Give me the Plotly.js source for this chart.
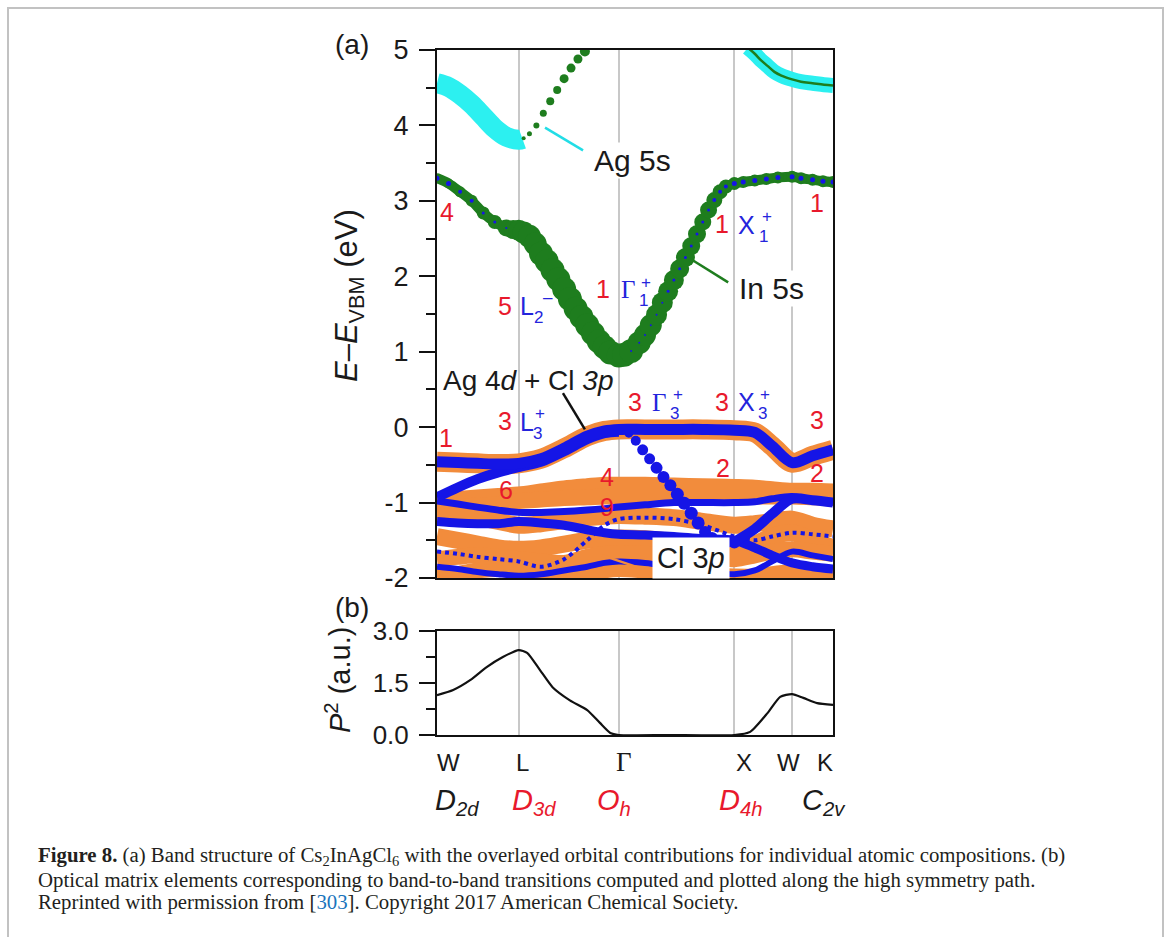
<!DOCTYPE html>
<html><head><meta charset="utf-8">
<script src="https://cdn.plot.ly/plotly-3.0.1.min.js"></script>
<style>html,body{margin:0;padding:0;background:#fff}#chart{width:1168px;height:937px}</style>
</head><body><div id="chart"></div>
<script>
// ---------------- data ----------------
const symLabels = ['W', 'L', 'Γ', 'X', 'W', 'K'];
const symK = [0, 0.707, 1.573, 2.573, 3.073, 3.427];
const pointGroups = ['D<sub>2d</sub>', 'D<sub>3d</sub>', 'O<sub>h</sub>', 'D<sub>4h</sub>', 'C<sub>2v</sub>'];
const pointGroupRed = [false, true, true, true, false];
const eTicks = [-2, -1, 0, 1, 2, 3, 4, 5];
const eTickText = ['-2', '-1', '0', '1', '2', '3', '4', '5'];
const pTicks = [0, 1.5, 3];
const pTickText = ['0.0', '1.5', '3.0'];

// lowest conduction band (In 5s dominated)
const kC = [0, 0.1, 0.2, 0.3, 0.4, 0.5, 0.6, 0.66, 0.707, 0.75,
  0.8, 0.85, 0.9, 0.95, 1.0, 1.05, 1.1, 1.15, 1.2, 1.25, 1.3, 1.35, 1.4, 1.45, 1.5,
  1.573, 1.62, 1.68,
  1.75, 1.8, 1.85, 1.9, 1.95, 2.0, 2.05, 2.1, 2.15, 2.2, 2.25, 2.3, 2.35, 2.4, 2.45, 2.5,
  2.573, 2.65, 2.75, 2.85, 2.95, 3.073, 3.15, 3.25, 3.34, 3.427];
const cbInE = [3.30, 3.23, 3.12, 3.00, 2.84, 2.72, 2.64, 2.62, 2.61, 2.58,
  2.53, 2.43, 2.30, 2.20, 2.08, 1.96, 1.83, 1.70, 1.57, 1.46, 1.35, 1.24, 1.14, 1.06, 0.99,
  0.95, 0.96, 1.01,
  1.12, 1.22, 1.35, 1.49, 1.65, 1.80, 1.95, 2.10, 2.25, 2.40, 2.56, 2.72, 2.88, 3.01, 3.12, 3.19,
  3.23, 3.25, 3.27, 3.29, 3.31, 3.32, 3.30, 3.28, 3.26, 3.25];
const cbInWeight = [10, 10, 11, 12, 13, 14, 17, 19, 21, 22,
  23, 23, 24, 24, 24, 24, 24, 24, 24, 24, 24, 24, 24, 24, 24,
  24, 24, 24,
  23, 22, 22, 21, 21, 20, 20, 19, 19, 18, 18, 17, 17, 16, 15, 14,
  13, 12, 12, 12, 12, 12, 12, 12, 12, 12];
const cbAgWeight = [5, 5, 4, 4, 3, 3, 2, 0, 0, 0,
  0, 0, 0, 0, 0, 0, 0, 0, 0, 0, 0, 0, 0, 0, 0,
  0, 0, 2,
  2, 2, 2, 2, 2, 3, 3, 3, 3, 3, 3, 3, 3, 4, 4, 4,
  5, 5, 5, 5, 5, 5, 5, 5, 5, 5];

// Ag 5s band W -> L
const kAgL = [0, 0.1, 0.2, 0.3, 0.4, 0.5, 0.6, 0.707, 0.74];
const agLE = [4.56, 4.51, 4.41, 4.28, 4.12, 3.96, 3.85, 3.81, 3.82];
// branch rising from L (In 5s dots)
const kRise = [0.75, 0.80, 0.86, 0.92, 0.98, 1.04, 1.10, 1.16, 1.22, 1.28, 1.33];
const riseE = [3.83, 3.89, 4.00, 4.16, 4.32, 4.47, 4.62, 4.76, 4.88, 4.98, 5.08];
const riseWeight = [4, 5, 6, 7, 8, 8, 9, 9, 9, 10, 10];
// Ag 5s band X -> K
const kAgR = [2.69, 2.75, 2.80, 2.86, 2.92, 2.98, 3.073, 3.15, 3.25, 3.35, 3.427];
const agRE = [5.03, 4.95, 4.87, 4.79, 4.71, 4.66, 4.61, 4.58, 4.56, 4.54, 4.53];

// valence bands
const kV = [0, 0.18, 0.35, 0.53, 0.707, 0.9, 1.1, 1.3, 1.45, 1.573, 1.8, 2.05, 2.3, 2.573, 2.75, 2.9, 3.073, 3.25, 3.427];
const vb1 = [-0.46, -0.47, -0.48, -0.49, -0.48, -0.42, -0.28, -0.12, -0.05, -0.03, -0.03, -0.03, -0.03, -0.04, -0.07, -0.25, -0.47, -0.38, -0.30];
// second band: W -> Γ, dispersive Γ -> X segment (beads), X -> K
const kV2a = [0, 0.18, 0.35, 0.53, 0.707, 0.9, 1.1, 1.3, 1.45, 1.573];
const vb2a = [-0.93, -0.80, -0.69, -0.60, -0.53, -0.46, -0.32, -0.16, -0.08, -0.06];
const kDiag = [1.60, 1.66, 1.72, 1.78, 1.84, 1.90, 1.96, 2.02, 2.08, 2.14, 2.20, 2.26, 2.32, 2.38, 2.44, 2.50, 2.573];
const vbDiag = [-0.05, -0.08, -0.18, -0.30, -0.42, -0.54, -0.66, -0.77, -0.89, -1.01, -1.14, -1.27, -1.39, -1.47, -1.51, -1.53, -1.53];
const diagWeight = [8, 9, 10, 11, 11, 12, 12, 12, 13, 13, 13, 13, 12, 12, 12, 12, 12];
const kV2b = [2.573, 2.75, 2.9, 3.073, 3.25, 3.427];
const vb2b = [-1.52, -1.35, -1.15, -0.95, -0.97, -1.00];
const clA = [-0.98, -0.96, -0.94, -0.92, -0.90, -0.86, -0.82, -0.79, -0.77, -0.77, -0.77, -0.78, -0.79, -0.80, -0.81, -0.83, -0.85, -0.85, -0.86];
const clB = [-1.08, -1.06, -1.04, -1.02, -0.98, -0.96, -0.94, -0.93, -0.92, -0.92, -0.92, -0.92, -0.92, -0.92, -0.92, -0.92, -0.92, -0.93, -0.94];
const vb5 = [-0.98, -1.02, -1.06, -1.10, -1.13, -1.13, -1.12, -1.10, -1.08, -1.06, -1.03, -1.00, -1.00, -1.00, -0.99, -0.95, -0.92, -0.97, -1.00];
const clC = [-1.20, -1.18, -1.20, -1.25, -1.30, -1.28, -1.24, -1.20, -1.18, -1.17, -1.18, -1.20, -1.25, -1.30, -1.28, -1.25, -1.22, -1.30, -1.35];
const vb6 = [-1.25, -1.27, -1.28, -1.28, -1.25, -1.27, -1.30, -1.36, -1.40, -1.42, -1.43, -1.45, -1.48, -1.50, -1.60, -1.70, -1.80, -1.85, -1.88];
const clD = [-1.45, -1.50, -1.55, -1.60, -1.62, -1.60, -1.55, -1.50, -1.48, -1.47, -1.48, -1.52, -1.58, -1.62, -1.55, -1.45, -1.40, -1.50, -1.60];
const vb7 = [-1.65, -1.68, -1.72, -1.75, -1.78, -1.85, -1.75, -1.50, -1.30, -1.22, -1.20, -1.22, -1.30, -1.45, -1.50, -1.45, -1.40, -1.42, -1.45];
const clE = [-1.75, -1.72, -1.70, -1.72, -1.75, -1.78, -1.80, -1.72, -1.68, -1.67, -1.68, -1.70, -1.72, -1.75, -1.70, -1.65, -1.62, -1.65, -1.68];
const vb8 = [-1.85, -1.88, -1.92, -1.95, -1.97, -1.95, -1.90, -1.85, -1.80, -1.78, -1.80, -1.85, -1.90, -1.95, -1.90, -1.78, -1.65, -1.70, -1.75];
const clF = [-1.98, -1.95, -1.90, -1.88, -1.90, -1.92, -1.95, -1.97, -1.90, -1.88, -1.90, -1.93, -1.96, -1.98, -1.98, -1.95, -1.92, -1.95, -1.97];

// optical matrix elements
const kP = [0, 0.14, 0.29, 0.43, 0.57, 0.707, 0.78, 0.89, 1.0, 1.15, 1.30, 1.41, 1.50, 1.573, 2.0, 2.573, 2.71, 2.86, 2.97, 3.073, 3.17, 3.29, 3.427];
const p2 = [1.15, 1.30, 1.59, 1.96, 2.25, 2.45, 2.37, 1.88, 1.38, 1.00, 0.72, 0.35, 0.06, 0, 0, 0, 0.09, 0.63, 1.10, 1.18, 1.07, 0.92, 0.87];

// ---------------- styling ----------------
const W = 1168, H = 937;
const fx = x => x / W;
const fy = y => 1 - y / H;
const SANS = 'Liberation Sans, Arial, sans-serif';
const SERIF = 'Liberation Serif, Times New Roman, serif';
const RED = '#e8192c', LBLUE = '#2424dc', BLUE = '#1515e6', ORANGE = '#f28c3c', GREEN = '#1e7d1e', CYAN = '#2cf0f0';

const traces = [];
function band(k, e, color, width, dash) {
  traces.push({x: k, y: e, xaxis: 'x', yaxis: 'y', type: 'scatter', mode: 'lines',
    line: {color: color, width: width, shape: 'spline', smoothing: 0.9, dash: dash || 'solid'}, hoverinfo: 'skip'});
}
function dots(k, e, color, size) {
  traces.push({x: k, y: e, xaxis: 'x', yaxis: 'y', type: 'scatter', mode: 'markers',
    marker: {color: color, size: size, opacity: 1, line: {width: 0}}, hoverinfo: 'skip'});
}
// Cl 3p (orange) underlay
band(kV, vb1, ORANGE, 20);
band(kV, clA, ORANGE, 17);
band(kV, clB, ORANGE, 16);
band(kV, clC, ORANGE, 17);
band(kV, clD, ORANGE, 17);
band(kV, clE, ORANGE, 16);
band(kV, clF, ORANGE, 16);
// Ag 4d (blue)
band(kV, vb8, BLUE, 6);
band(kV, vb7, BLUE, 4, 'dot');
band(kV, vb6, BLUE, 9);
band(kV, vb5, BLUE, 7);
band(kV2a, vb2a, BLUE, 10);
band(kV2b, vb2b, BLUE, 10);
dots(kDiag, vbDiag, BLUE, diagWeight);
band(kV, vb1, BLUE, 11);

// Ag 5s (cyan)
traces.push({x: kAgL, y: agLE, xaxis: 'x', yaxis: 'y', type: 'scatter', mode: 'lines',
  line: {color: CYAN, width: 20, shape: 'spline'}, hoverinfo: 'skip'});
traces.push({x: kAgR, y: agRE, xaxis: 'x', yaxis: 'y', type: 'scatter', mode: 'lines',
  line: {color: CYAN, width: 15, shape: 'spline'}, hoverinfo: 'skip'});
traces.push({x: kAgR, y: agRE, xaxis: 'x', yaxis: 'y', type: 'scatter', mode: 'lines',
  line: {color: GREEN, width: 2.5, shape: 'spline'}, hoverinfo: 'skip'});
dots(kRise, riseE, GREEN, riseWeight);

// In 5s (green) lowest conduction band
traces.push({x: kC, y: cbInE, xaxis: 'x', yaxis: 'y', type: 'scatter', mode: 'lines+markers',
  line: {color: GREEN, width: 10, shape: 'spline'},
  marker: {color: GREEN, size: cbInWeight, opacity: 1, line: {width: 0}}, hoverinfo: 'skip'});
dots(kC, cbInE, BLUE, cbAgWeight);

// P^2
traces.push({x: kP, y: p2, xaxis: 'x2', yaxis: 'y2', type: 'scatter', mode: 'lines',
  line: {color: '#111', width: 2.2, shape: 'spline', smoothing: 0.6}, hoverinfo: 'skip'});

// ---------------- annotations ----------------
const anns = [];
function txt(text, x, y, size, color, opts) {
  anns.push(Object.assign({text: text, xref: 'paper', yref: 'paper', x: fx(x), y: fy(y),
    xanchor: 'center', yanchor: 'middle', showarrow: false,
    font: {family: SANS, size: size, color: color || '#1a1a1a'}}, opts || {}));
}
function sym(main, x, y, sub, sup, subX, subY, supX, supY, serif) {
  anns.push({text: main, xref: 'paper', yref: 'paper', x: fx(x), y: fy(y), xanchor: 'left', yanchor: 'middle',
    showarrow: false, font: {family: serif ? SERIF : SANS, size: 25, color: LBLUE}});
  txt(sub, subX, subY, 17, LBLUE);
  txt(sup, supX, supY, 17, LBLUE);
}

txt('(a)', 352, 45, 28);
txt('(b)', 352, 607, 28);
txt('<i>E</i>–<i>E</i><sub>VBM</sub> (eV)', 349, 296, 31, '#1a1a1a', {textangle: -90});
txt('<i>P</i><sup>2</sup> (a.u.)', 338, 680, 29, '#1a1a1a', {textangle: -90});

// red multiplicities
[['4', 447, 212], ['5', 505, 306], ['1', 603, 289], ['1', 722, 224], ['1', 817, 203],
 ['1', 446, 438], ['3', 505, 421], ['3', 635, 402], ['3', 722, 402], ['3', 817, 420],
 ['2', 723, 468], ['2', 817, 473], ['6', 506, 490], ['4', 607, 477], ['9', 607, 507]]
  .forEach(d => txt(d[0], d[1], d[2], 25, RED));

// irreducible representations
sym('L', 518, 306, '2', '–', 538, 318, 548, 297);
sym('Γ', 619, 289, '1', '+', 643, 300, 646, 282, true);
sym('X', 736, 225, '1', '+', 763, 236, 767, 217);
sym('L', 518, 422, '3', '+', 537, 433, 540, 413);
sym('Γ', 650, 402, '3', '+', 674, 413, 678, 395, true);
sym('X', 736, 402, '3', '+', 762, 413, 765, 395);

// orbital labels
txt('Ag 5s', 632, 160, 30, '#1a1a1a', {bgcolor: '#ffffff', borderpad: 1});
txt('In 5s', 771, 288, 30, '#1a1a1a', {bgcolor: '#ffffff', borderpad: 1});
txt('Ag 4<i>d</i> + Cl <i>3p</i>', 528, 380, 28, '#1a1a1a');
txt('Cl 3<i>p</i>', 691, 558, 29, '#1a1a1a', {bgcolor: '#ffffff', borderpad: 4});

// high symmetry labels and point groups
const symLabelShift = [11, 4, 5, 10, -4, -8];
symLabels.forEach((s, i) => {
  anns.push({text: s, xref: 'x2', yref: 'paper', x: symK[i], xshift: symLabelShift[i], y: fy(762),
    xanchor: 'center', yanchor: 'middle', showarrow: false,
    font: {family: s === 'Γ' ? SERIF : SANS, size: s === 'Γ' ? 27 : 24, color: '#1a1a1a'}});
});
const pgLeft = [433, 510, 595, 717, 800];
pointGroups.forEach((s, i) => {
  anns.push({text: '<i>' + s + '</i>', xref: 'paper', yref: 'paper', x: fx(pgLeft[i]), y: fy(802),
    xanchor: 'left', yanchor: 'middle', showarrow: false,
    font: {family: SANS, size: 29, color: pointGroupRed[i] ? RED : '#1a1a1a'}});
});

// caption
const CAP = '#231f20';
function cap(text, y) {
  anns.push({text: text, xref: 'paper', yref: 'paper', x: fx(36), y: fy(y), xanchor: 'left', yanchor: 'middle',
    showarrow: false, align: 'left', font: {family: SERIF, size: 20.8, color: CAP}});
}
cap('<b>Figure 8.</b> (a) Band structure of Cs<sub>2</sub>InAgCl<sub>6</sub> with the overlayed orbital contributions for individual atomic compositions. (b)', 856);
cap('Optical matrix elements corresponding to band-to-band transitions computed and plotted along the high symmetry path.', 880);
cap('Reprinted with permission from [<span style="color:#1a75bc">303</span>]. Copyright 2017 American Chemical Society.', 902);

// ---------------- shapes ----------------
const shapes = [
  {type: 'rect', xref: 'paper', yref: 'paper', x0: fx(8), x1: fx(1163), y0: -0.05, y1: fy(8),
   line: {color: '#c2c2c2', width: 2}, fillcolor: 'rgba(0,0,0,0)', layer: 'below'},
  {type: 'line', xref: 'x', yref: 'y', x0: 0.935, y0: 3.97, x1: 1.264, y1: 3.67, line: {color: '#22dde6', width: 2.5}},
  {type: 'line', xref: 'x', yref: 'y', x0: 2.216, y0: 2.21, x1: 2.52, y1: 1.92, line: {color: GREEN, width: 2.5}},
  {type: 'line', xref: 'x', yref: 'y', x0: 1.09, y0: 0.45, x1: 1.28, y1: -0.03, line: {color: '#111', width: 2.5}},
  {type: 'line', xref: 'x', yref: 'y', x0: 1.43, y0: -1.70, x1: 1.74, y1: -1.86, line: {color: ORANGE, width: 2.5}}
];

const axisLine = {showline: true, mirror: true, linecolor: '#111', linewidth: 2, zeroline: false, fixedrange: true};
const layout = {
  width: W, height: H, margin: {l: 0, r: 0, t: 0, b: 0},
  paper_bgcolor: '#ffffff', plot_bgcolor: '#ffffff', showlegend: false,
  font: {family: SANS, color: '#1a1a1a'},
  xaxis: Object.assign({domain: [fx(437), fx(833)], range: [0, 3.427], anchor: 'y', tickmode: 'array', tickvals: symK,
    showticklabels: false, ticks: '', showgrid: true, gridcolor: '#c8c8c8', gridwidth: 2}, axisLine),
  yaxis: Object.assign({domain: [fy(578), fy(50)], range: [-2, 5], anchor: 'x', tickmode: 'array', tickvals: eTicks, ticktext: eTickText,
    ticks: 'outside', ticklen: 16, tickwidth: 2, tickcolor: '#111', ticklabelstandoff: 5,
    minor: {tickmode: 'linear', tick0: 0, dtick: 0.5, ticks: 'outside', ticklen: 9, tickwidth: 2, tickcolor: '#111', showgrid: false},
    showgrid: false, tickfont: {family: SANS, size: 27, color: '#1a1a1a'}}, axisLine),
  xaxis2: Object.assign({domain: [fx(437), fx(833)], range: [0, 3.427], anchor: 'y2', tickmode: 'array', tickvals: symK,
    showticklabels: false, ticks: '', showgrid: true, gridcolor: '#c8c8c8', gridwidth: 2}, axisLine),
  yaxis2: Object.assign({domain: [fy(735), fy(631)], range: [0, 3], anchor: 'x2', tickmode: 'array', tickvals: pTicks, ticktext: pTickText,
    ticks: 'outside', ticklen: 16, tickwidth: 2, tickcolor: '#111', ticklabelstandoff: 5,
    minor: {tickmode: 'linear', tick0: 0, dtick: 0.75, ticks: 'outside', ticklen: 9, tickwidth: 2, tickcolor: '#111', showgrid: false},
    showgrid: false, tickfont: {family: SANS, size: 26, color: '#1a1a1a'}}, axisLine),
  annotations: anns,
  shapes: shapes
};

Plotly.newPlot('chart', traces, layout, {staticPlot: true, displayModeBar: false});
</script>
</body></html>
